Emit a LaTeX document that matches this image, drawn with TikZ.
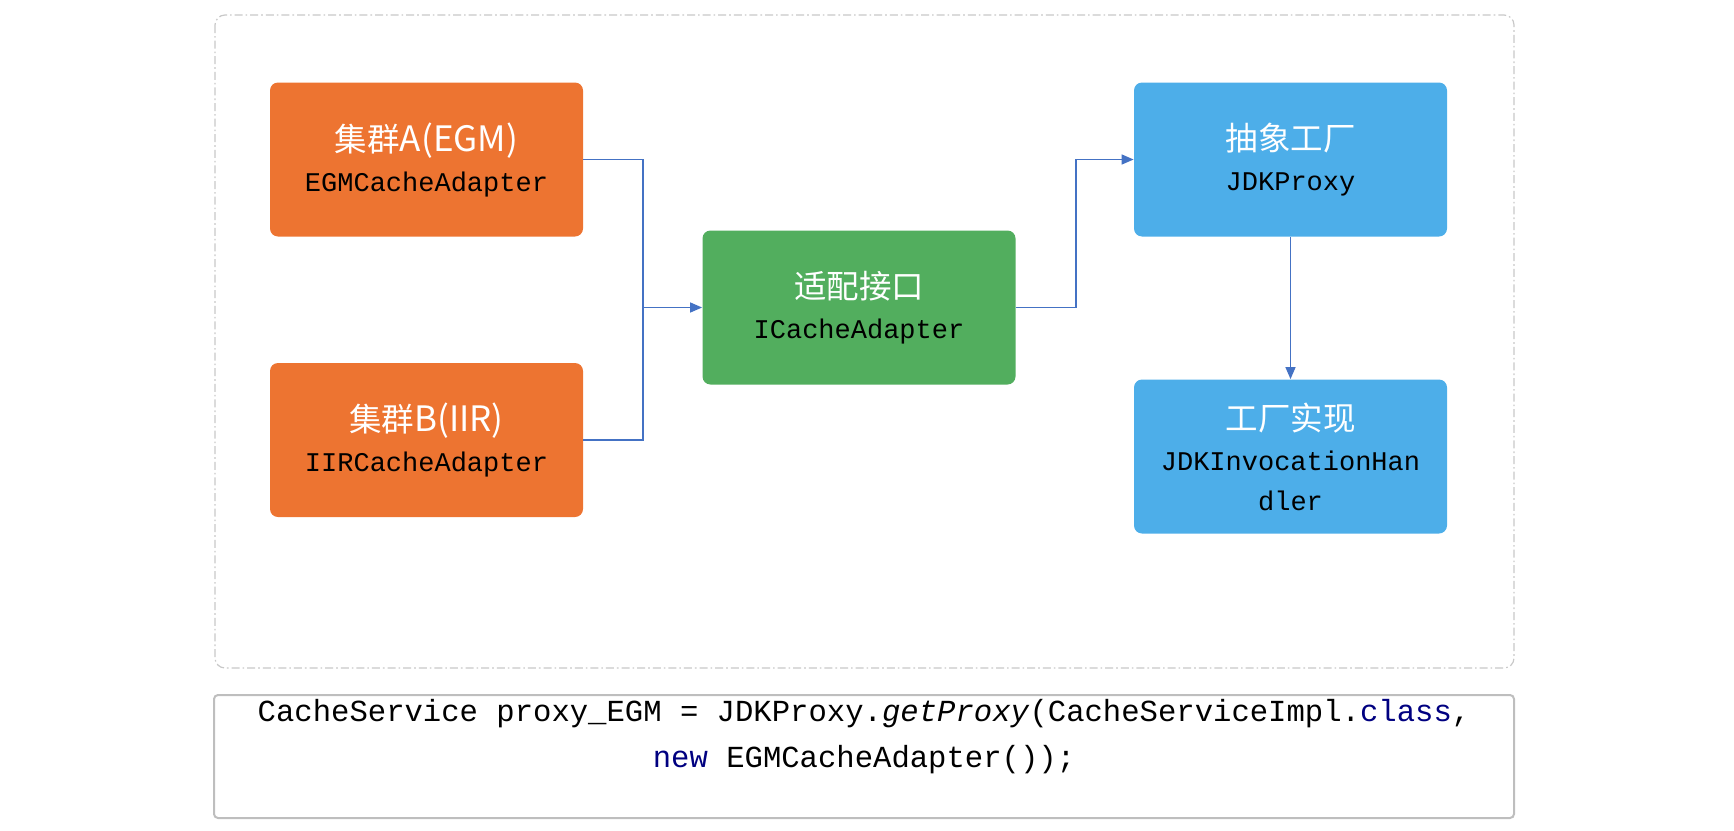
\documentclass[tikz,border=0pt]{standalone}
\usepackage{fontspec}
\newfontfamily\cjkfont{Noto Sans CJK SC}
\newfontfamily\codefont{Liberation Mono}
\usetikzlibrary{arrows.meta}
\definecolor{cOrange}{RGB}{237,116,49}
\definecolor{cGreen}{RGB}{82,174,94}
\definecolor{cBlue}{RGB}{77,174,233}
\definecolor{cLine}{RGB}{68,114,196}
\definecolor{cFrame}{RGB}{200,200,200}
\definecolor{cCodeBorder}{RGB}{190,190,190}
\definecolor{cNavy}{RGB}{0,0,128}
\tikzset{
  boxnode/.style={rounded corners=4pt, minimum width=156.5pt, minimum height=77pt,
    inner sep=0pt, align=center,
    font=\codefont\fontsize{13.5}{20}\selectfont, text=black},
  conn/.style={draw=cLine, line width=0.7pt, -{Triangle[length=6pt,width=5pt]}},
  plainline/.style={draw=cLine, line width=0.7pt},
}
\newcommand{\ttl}[2]{{\cjkfont\color{white}\fontsize{16.25}{20}\selectfont #1\fontsize{17.5}{20}\selectfont #2}}
\begin{document}
\lineskiplimit=-30pt\relax
\begin{tikzpicture}[x=0.5pt,y=-0.5pt]
\useasboundingbox (0,0) rectangle (1734,830);
% outer frame
\draw[cFrame, line width=0.6pt, rounded corners=5pt,
  dash pattern=on 4pt off 1.5pt on 0.8pt off 1.5pt] (215,15) rectangle (1514,668);
% nodes
\node[boxnode, fill=cOrange] (a) at (426.5,159.5) {\ttl{集群}{A(EGM)}\\EGMCacheAdapter};
\node[boxnode, fill=cOrange] (b) at (426.5,440) {\ttl{集群}{B(IIR)}\\IIRCacheAdapter};
\node[boxnode, fill=cGreen] (g) at (859,307.5) {\ttl{适配接口}{}\\ICacheAdapter};
\node[boxnode, fill=cBlue] (p) at (1290.5,159.5) {\ttl{抽象工厂}{}\\JDKProxy};
\node[boxnode, fill=cBlue] (h) at (1290.5,456.5) {\ttl{工厂实现}{}\\JDKInvocationHan\\dler};
% connectors
\coordinate (j) at (643,307.5);
\draw[conn] (a.east) -| (j) -- (g.west);
\draw[plainline] (b.east) -| (j);
\draw[conn] (g.east) -- ++(60,0) |- (p.west);
\draw[conn] (p.south) -- (h.north);
% code box
\draw[cCodeBorder, line width=1pt, rounded corners=2pt] (214,695) rectangle (1514,818);
\node[inner sep=0pt, align=center, font=\codefont\fontsize{15.3}{23}\selectfont] (code) at (864,737)
 {CacheService proxy\_EGM = JDKProxy.\textit{getProxy}(CacheServiceImpl.\textcolor{cNavy}{class},\\
  \textcolor{cNavy}{new} EGMCacheAdapter());};
\end{tikzpicture}
\end{document}
